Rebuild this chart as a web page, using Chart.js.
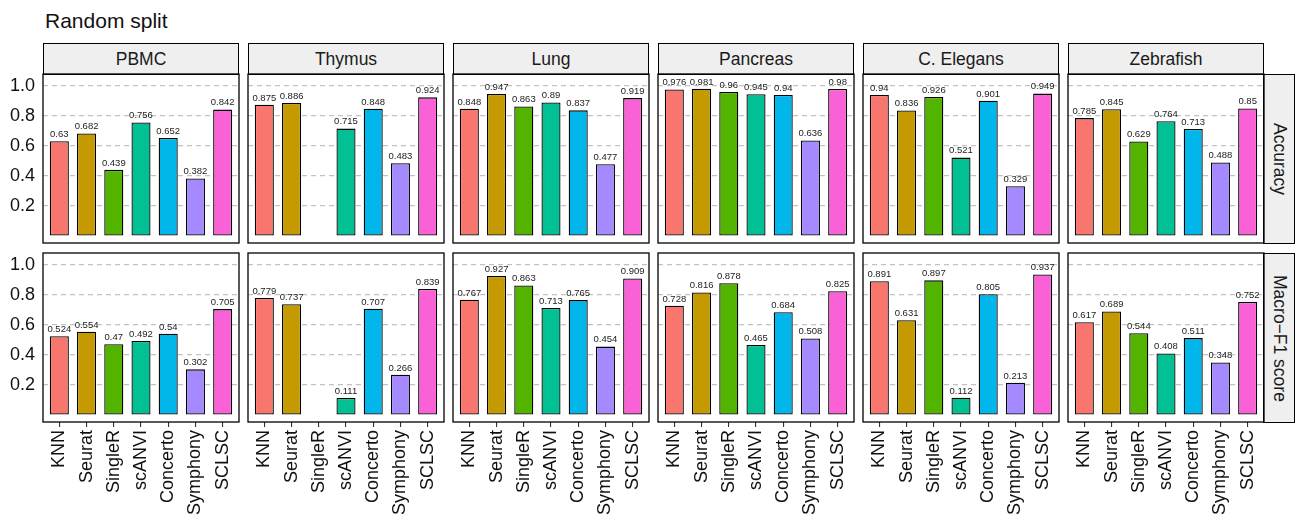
<!DOCTYPE html>
<html>
<head>
<meta charset="utf-8">
<script src="https://cdn.jsdelivr.net/npm/chart.js@4.4.1/dist/chart.umd.min.js"></script>
<style>
  html, body { margin: 0; padding: 0; background: #fff; width: 1306px; height: 515px; overflow: hidden; }
  body { position: relative; font-family: "Liberation Sans", Arial, Helvetica, sans-serif; }
  .title { position: absolute; left: 45px; top: 10px; font-size: 21px; line-height: 1; color: #111; }
  .strip { position: absolute; box-sizing: border-box; border: 1.3px solid #000; background: #efefef;
           display: flex; align-items: center; justify-content: center; font-size: 17.5px; color: #1a1a1a; }
  .rstrip { writing-mode: vertical-rl; }
  .holder { position: absolute; }
</style>
</head>
<body>
<div class="title">Random split</div>
<script>
// ---- data ----
const methods = ['KNN', 'Seurat', 'SingleR', 'scANVI', 'Concerto', 'Symphony', 'SCLSC'];
const datasetNames = ['PBMC', 'Thymus', 'Lung', 'Pancreas', 'C. Elegans', 'Zebrafish'];
const metricNames = ['Accuracy', 'Macro\u2212F1 score'];
const yTicks = [0.2, 0.4, 0.6, 0.8, 1.0];

const accPBMC      = [0.63, 0.682, 0.439, 0.756, 0.652, 0.382, 0.842];
const accThymus    = [0.875, 0.886, null, 0.715, 0.848, 0.483, 0.924];
const accLung      = [0.848, 0.947, 0.863, 0.89, 0.837, 0.477, 0.919];
const accPancreas  = [0.976, 0.981, 0.96, 0.945, 0.94, 0.636, 0.98];
const accCElegans  = [0.94, 0.836, 0.926, 0.521, 0.901, 0.329, 0.949];
const accZebrafish = [0.785, 0.845, 0.629, 0.764, 0.713, 0.488, 0.85];

const f1PBMC      = [0.524, 0.554, 0.47, 0.492, 0.54, 0.302, 0.705];
const f1Thymus    = [0.779, 0.737, null, 0.111, 0.707, 0.266, 0.839];
const f1Lung      = [0.767, 0.927, 0.863, 0.713, 0.765, 0.454, 0.909];
const f1Pancreas  = [0.728, 0.816, 0.878, 0.465, 0.684, 0.508, 0.825];
const f1CElegans  = [0.891, 0.631, 0.897, 0.112, 0.805, 0.213, 0.937];
const f1Zebrafish = [0.617, 0.689, 0.544, 0.408, 0.511, 0.348, 0.752];

const accValues = [accPBMC, accThymus, accLung, accPancreas, accCElegans, accZebrafish];
const f1Values  = [f1PBMC, f1Thymus, f1Lung, f1Pancreas, f1CElegans, f1Zebrafish];
const metricValues = [accValues, f1Values];

// ---- styles / layout ----
const methodColors = ['#F8766D', '#C49A00', '#53B400', '#00C094', '#00B6EB', '#A58AFF', '#FB61D7'];
const PANEL_W = 196, PANEL_H = 169, COL_STEP = 205, FIRST_LEFT = 43;
const ROW_TOPS = [74, 253];
const STRIP_TOP = 43, STRIP_H = 31, RSTRIP_W = 32;
const YAXIS_W = 45, PAD = 4, XAXIS_H = 95;
const FONT = '"Liberation Sans", Arial, Helvetica, sans-serif';

Chart.defaults.font.family = FONT;
Chart.defaults.color = '#111';

const panelBorder = {
  id: 'panelBorder',
  afterDraw(chart) {
    const a = chart.chartArea, ctx = chart.ctx;
    ctx.save();
    ctx.strokeStyle = '#000';
    ctx.lineWidth = 1.3;
    ctx.strokeRect(a.left, a.top, a.right - a.left, a.bottom - a.top);
    ctx.restore();
  }
};

const valueLabels = {
  id: 'valueLabels',
  afterDatasetsDraw(chart) {
    const ctx = chart.ctx;
    const meta = chart.getDatasetMeta(0);
    const ds = chart.data.datasets[0].data;
    ctx.save();
    ctx.font = '9.5px ' + FONT;
    ctx.fillStyle = '#222';
    ctx.textAlign = 'center';
    ctx.textBaseline = 'bottom';
    meta.data.forEach((el, i) => {
      const v = ds[i].y;
      if (v === null || v === undefined) return;
      ctx.fillText(String(v), el.x, el.y - 2);
    });
    ctx.restore();
  }
};

// strips
datasetNames.forEach((name, c) => {
  const d = document.createElement('div');
  d.className = 'strip';
  d.style.left = (FIRST_LEFT + c * COL_STEP) + 'px';
  d.style.top = STRIP_TOP + 'px';
  d.style.width = PANEL_W + 'px';
  d.style.height = (STRIP_H + 1) + 'px';
  d.textContent = name;
  document.body.appendChild(d);
});

metricNames.forEach((name, r) => {
  const d = document.createElement('div');
  d.className = 'strip rstrip';
  d.style.left = (FIRST_LEFT + 5 * COL_STEP + PANEL_W - 1) + 'px';
  d.style.top = ROW_TOPS[r] + 'px';
  d.style.width = RSTRIP_W + 'px';
  d.style.height = (PANEL_H + 1) + 'px';
  d.textContent = name;
  document.body.appendChild(d);
});

function zeroPad(s) { s.paddingTop = 0; s.paddingBottom = 0; s.paddingLeft = 0; s.paddingRight = 0; }

// panels
for (let r = 0; r < 2; r++) {
  for (let c = 0; c < 6; c++) {
    const left = FIRST_LEFT + c * COL_STEP - YAXIS_W;
    const top = ROW_TOPS[r] - PAD;
    const w = YAXIS_W + PANEL_W + PAD;
    const h = PAD + PANEL_H + (r === 1 ? XAXIS_H : PAD);
    const holder = document.createElement('div');
    holder.className = 'holder';
    holder.style.left = left + 'px';
    holder.style.top = top + 'px';
    const cv = document.createElement('canvas');
    cv.width = w; cv.height = h;
    cv.style.width = w + 'px'; cv.style.height = h + 'px';
    holder.appendChild(cv);
    document.body.appendChild(holder);

    const vals = metricValues[r][c];
    new Chart(cv, {
      type: 'bar',
      data: {
        datasets: [{
          data: vals.map((v, i) => ({ x: i + 1, y: v })),
          backgroundColor: methodColors,
          borderColor: '#000',
          borderWidth: 1.3,
          borderSkipped: false,
          categoryPercentage: 1,
          barPercentage: 0.7
        }]
      },
      options: {
        responsive: false,
        animation: false,
        events: [],
        layout: { padding: { top: PAD, right: PAD, left: 0, bottom: r === 1 ? 0 : PAD } },
        plugins: { legend: { display: false }, tooltip: { enabled: false } },
        scales: {
          x: {
            type: 'linear',
            min: 0.4, max: 7.6,
            offset: false,
            display: r === 1,
            afterBuildTicks: (s) => { s.ticks = methods.map((m, i) => ({ value: i + 1 })); },
            afterFit: (s) => { zeroPad(s); s.height = (r === 1 ? XAXIS_H : 0); },
            grid: { offset: false, drawOnChartArea: false, drawTicks: true, tickLength: 5, color: '#333', lineWidth: 1.1 },
            border: { display: false },
            ticks: {
              autoSkip: false, minRotation: 90, maxRotation: 90, padding: 3,
              font: { size: 18 }, color: '#111',
              callback: (v) => methods[Math.round(v) - 1]
            }
          },
          y: {
            min: -0.05, max: 1.08,
            afterBuildTicks: (s) => { s.ticks = yTicks.map(v => ({ value: v })); },
            afterFit: (s) => { zeroPad(s); s.width = YAXIS_W; },
            grid: { drawTicks: false, color: '#c2c2c2', lineWidth: 1.2 },
            border: { display: false, dash: [5, 4] },
            ticks: {
              display: c === 0, padding: 8,
              font: { size: 18 }, color: '#111',
              callback: (v) => v.toFixed(1)
            }
          }
        }
      },
      plugins: [valueLabels, panelBorder]
    });
  }
}
</script>
</body>
</html>
